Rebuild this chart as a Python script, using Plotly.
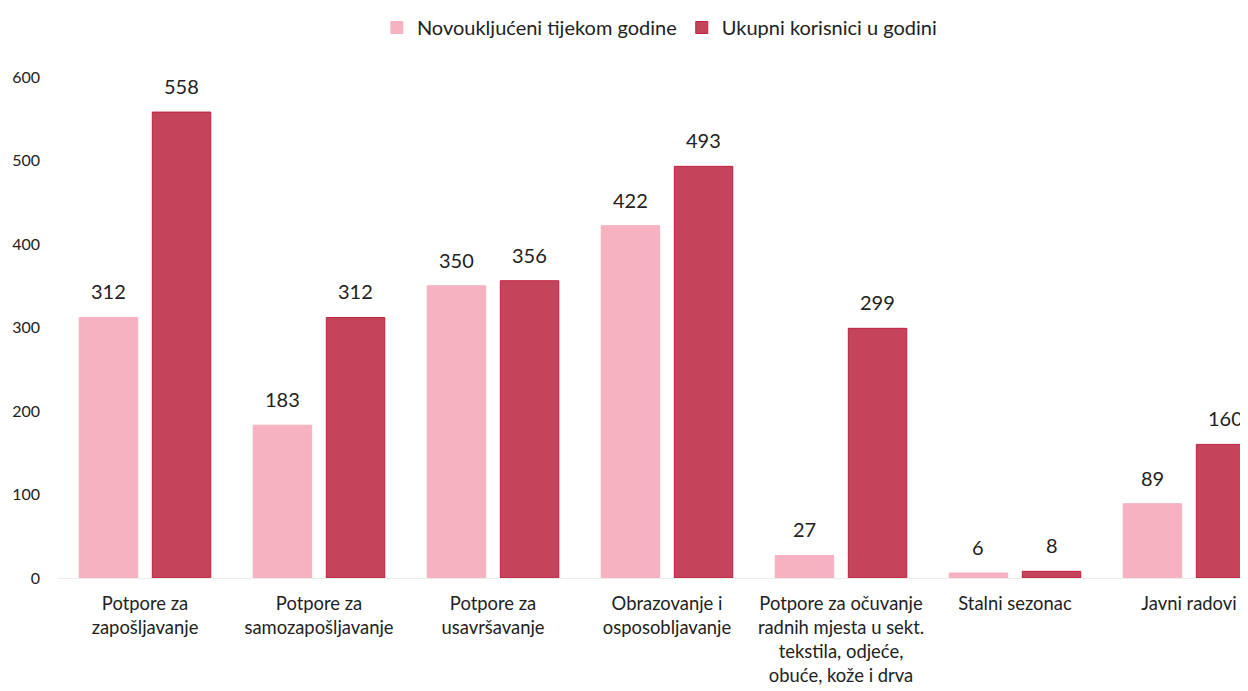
import plotly.graph_objects as go

categories = [
    "Potpore za<br>zapošljavanje",
    "Potpore za<br>samozapošljavanje",
    "Potpore za<br>usavršavanje",
    "Obrazovanje i<br>osposobljavanje",
    "Potpore za očuvanje<br>radnih mjesta u sekt.<br>tekstila, odjeće,<br>obuće, kože i drva",
    "Stalni sezonac",
    "Javni radovi",
]
novoukljuceni = [312, 183, 350, 422, 27, 6, 89]
ukupni = [558, 312, 356, 493, 299, 8, 160]
y_ticks = [0, 100, 200, 300, 400, 500, 600]

FONT = "Lato, Carlito, 'Open Sans', sans-serif"
BARGAP = 0.16
x_idx = list(range(len(categories)))
series = [
    ("Novoukljućeni tijekom godine", novoukljuceni, "#f6b2c0", "#f6b2c0", 0),
    ("Ukupni korisnici u godini", ukupni, "#c4455b", "#c0213f", 1),
]

fig = go.Figure()
slot = (1 - BARGAP) / len(series)
for name, vals, col, lcol, k in series:
    fig.add_trace(go.Bar(
        x=x_idx, y=vals, name=name,
        marker=dict(color=col, line=dict(width=1, color=lcol)),
    ))
    off = -(1 - BARGAP) / 2 + slot * (k + 0.5)
    for i, v in zip(x_idx, vals):
        fig.add_annotation(
            x=i + off, y=v, xref="x", yref="y", text=str(v), showarrow=False,
            yanchor="bottom", yshift=12,
            font=dict(size=20, color="#222222", family=FONT),
        )

W = 1248
L = 50
fig.update_layout(
    width=W, height=683,
    paper_bgcolor="white", plot_bgcolor="white",
    margin=dict(l=L, r=0, t=68, b=113),
    barmode="group", bargap=BARGAP, bargroupgap=0.2,
    font=dict(family=FONT, size=17, color="#222222"),
    legend=dict(orientation="h", x=0.502, xanchor="center", y=1.098, yanchor="middle",
                font=dict(size=20, color="#222222"), itemwidth=30, traceorder="normal"),
    showlegend=True,
)
fig.update_xaxes(
    range=[-0.5, -0.5 + (W - L) / 174], tickmode="array", tickvals=x_idx, ticktext=categories,
    showgrid=False, showline=True, linecolor="#ececec", linewidth=1, ticks="",
    tickfont=dict(size=18.4, color="#222222"), zeroline=False, ticklabelstandoff=9,
)
fig.update_yaxes(
    range=[0, 600], tickvals=y_ticks, showgrid=False, zeroline=False, showline=False,
    tickfont=dict(size=16, color="#222222"), ticklabelstandoff=17,
)

fig.write_html("out.html")
